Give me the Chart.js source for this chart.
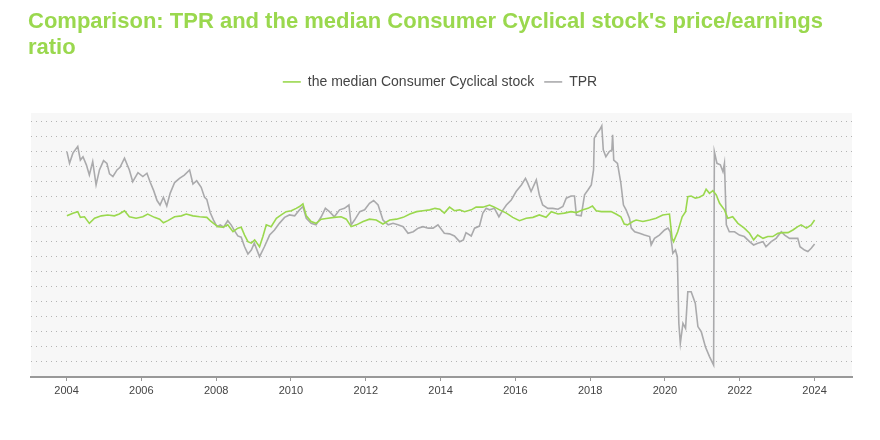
<!DOCTYPE html>
<html>
<head>
<meta charset="utf-8">
<script src="https://cdn.jsdelivr.net/npm/chart.js@4"></script>
<style>
  html, body { margin: 0; padding: 0; background: #fff; }
  #wrap { width: 880px; height: 440px; }
</style>
</head>
<body>
<div id="wrap"><canvas id="myChart"></canvas></div>
<script>
// P/E ratio readings (decimal year, value)
const titleLines = ['Comparison: TPR and the median Consumer Cyclical stock\'s price/earnings', 'ratio'];
const seriesNames = ['the median Consumer Cyclical stock', 'TPR'];
const xTicks = [2004, 2006, 2008, 2010, 2012, 2014, 2016, 2018, 2020, 2022, 2024];
const yGrid = [-30, -25, -20, -15, -10, -5, 0, 5, 10, 15, 20, 25, 30, 35, 40, 45, 50];

const medianYears = [
    2004.01, 2004.17, 2004.30, 2004.37, 2004.48, 2004.61, 2004.75, 2004.93, 2005.10, 2005.28,
    2005.41, 2005.55, 2005.68, 2005.86, 2006.04, 2006.17, 2006.35, 2006.49, 2006.59, 2006.71,
    2006.89, 2007.07, 2007.20, 2007.38, 2007.56, 2007.75, 2007.84, 2007.93, 2008.05, 2008.18,
    2008.31, 2008.45, 2008.58, 2008.67, 2008.76, 2008.85, 2008.94, 2009.03, 2009.16, 2009.25,
    2009.34, 2009.47, 2009.61, 2009.74, 2009.87, 2010.01, 2010.14, 2010.23, 2010.32, 2010.41,
    2010.54, 2010.67, 2010.81, 2010.99, 2011.16, 2011.34, 2011.48, 2011.61, 2011.75, 2011.93,
    2012.10, 2012.28, 2012.46, 2012.64, 2012.82, 2013.00, 2013.18, 2013.36, 2013.53, 2013.71,
    2013.85, 2013.98, 2014.10, 2014.24, 2014.37, 2014.51, 2014.64, 2014.82, 2014.95, 2015.13,
    2015.31, 2015.44, 2015.58, 2015.76, 2015.93, 2016.11, 2016.29, 2016.47, 2016.64, 2016.82,
    2016.96, 2017.14, 2017.31, 2017.49, 2017.63, 2017.81, 2017.94, 2018.06, 2018.16, 2018.30,
    2018.43, 2018.56, 2018.69, 2018.82, 2018.91, 2019.00, 2019.14, 2019.23, 2019.41, 2019.59,
    2019.76, 2019.94, 2020.12, 2020.19, 2020.23, 2020.34, 2020.46, 2020.55, 2020.61, 2020.70,
    2020.81, 2020.92, 2021.03, 2021.10, 2021.19, 2021.28, 2021.37, 2021.46, 2021.59, 2021.68,
    2021.81, 2021.95, 2022.12, 2022.26, 2022.37, 2022.48, 2022.62, 2022.75, 2022.88, 2023.02,
    2023.15, 2023.29, 2023.42, 2023.55, 2023.64, 2023.78, 2023.91, 2024.00
];
const medianPE = [
    18.7, 19.6, 20.1, 18.2, 18.4, 16.2, 17.9, 18.7, 19.0, 18.7,
    19.3, 20.4, 18.4, 17.9, 18.4, 19.3, 18.2, 17.6, 16.4, 17.1,
    18.4, 18.7, 19.3, 18.7, 18.4, 18.2, 17.1, 16.2, 15.1, 14.9,
    15.7, 13.4, 14.6, 14.9, 12.3, 10.1, 9.6, 10.7, 8.4, 11.8,
    15.7, 15.1, 17.9, 19.0, 20.1, 20.4, 21.2, 21.8, 22.7, 18.7,
    16.8, 16.2, 17.6, 17.9, 18.2, 18.4, 17.6, 15.1, 15.7, 16.8,
    17.6, 17.3, 16.0, 17.3, 17.6, 18.2, 19.3, 20.1, 20.4, 20.7,
    21.2, 20.9, 19.6, 21.6, 20.4, 20.7, 20.1, 20.7, 21.6, 21.6,
    22.3, 21.6, 20.7, 19.6, 18.2, 17.1, 17.9, 18.2, 19.0, 18.2,
    20.1, 19.3, 19.6, 20.1, 19.8, 20.7, 21.2, 22.0, 20.4, 20.1,
    20.1, 20.1, 19.3, 18.4, 16.0, 15.7, 16.8, 17.3, 16.8, 17.3,
    17.9, 19.0, 19.3, 11.2, 10.1, 13.4, 18.4, 20.1, 25.1, 25.3,
    24.6, 24.9, 25.7, 27.6, 26.2, 27.1, 25.7, 22.9, 20.7, 17.9,
    18.4, 16.2, 14.6, 12.9, 10.7, 12.3, 11.2, 11.8, 11.8, 12.9,
    13.1, 13.1, 14.0, 15.1, 15.7, 14.6, 15.7, 17.3
];

const tprYears = [
    2004.01, 2004.08, 2004.17, 2004.30, 2004.37, 2004.44, 2004.53, 2004.61, 2004.70, 2004.79,
    2004.88, 2004.99, 2005.08, 2005.15, 2005.24, 2005.35, 2005.43, 2005.55, 2005.68, 2005.77,
    2005.91, 2006.04, 2006.15, 2006.24, 2006.33, 2006.42, 2006.50, 2006.59, 2006.68, 2006.77,
    2006.89, 2007.02, 2007.15, 2007.29, 2007.38, 2007.48, 2007.60, 2007.69, 2007.75, 2007.84,
    2007.93, 2008.02, 2008.11, 2008.20, 2008.31, 2008.40, 2008.49, 2008.58, 2008.67, 2008.76,
    2008.85, 2008.94, 2009.02, 2009.16, 2009.29, 2009.43, 2009.56, 2009.69, 2009.83, 2009.96,
    2010.10, 2010.23, 2010.32, 2010.41, 2010.54, 2010.67, 2010.81, 2010.92, 2011.03, 2011.16,
    2011.30, 2011.43, 2011.55, 2011.61, 2011.70, 2011.84, 2011.97, 2012.10, 2012.21, 2012.33,
    2012.46, 2012.60, 2012.73, 2012.86, 2013.00, 2013.13, 2013.27, 2013.40, 2013.53, 2013.67,
    2013.80, 2013.93, 2014.10, 2014.24, 2014.37, 2014.51, 2014.61, 2014.68, 2014.82, 2014.91,
    2015.04, 2015.13, 2015.22, 2015.31, 2015.44, 2015.56, 2015.67, 2015.76, 2015.89, 2016.02,
    2016.16, 2016.27, 2016.33, 2016.42, 2016.56, 2016.64, 2016.73, 2016.87, 2017.00, 2017.14,
    2017.27, 2017.36, 2017.49, 2017.58, 2017.63, 2017.76, 2017.85, 2017.94, 2018.03, 2018.09,
    2018.11, 2018.18, 2018.25, 2018.31, 2018.35, 2018.42, 2018.51, 2018.58, 2018.60, 2018.63,
    2018.73, 2018.82, 2018.89, 2018.96, 2019.05, 2019.10, 2019.19, 2019.32, 2019.45, 2019.59,
    2019.63, 2019.72, 2019.85, 2019.99, 2020.08, 2020.14, 2020.21, 2020.28, 2020.33, 2020.37,
    2020.41, 2020.48, 2020.55, 2020.61, 2020.70, 2020.81, 2020.88, 2020.97, 2021.08, 2021.19,
    2021.30, 2021.32, 2021.39, 2021.48, 2021.55, 2021.59, 2021.64, 2021.72, 2021.86, 2021.99,
    2022.12, 2022.26, 2022.37, 2022.48, 2022.62, 2022.70, 2022.84, 2022.97, 2023.11, 2023.20,
    2023.33, 2023.46, 2023.55, 2023.61, 2023.73, 2023.82, 2023.91, 2024.00
];
const tprPE = [
    40.1, 36.2, 39.6, 41.8, 37.3, 38.4, 35.7, 32.3, 36.8, 29.0,
    34.0, 37.1, 36.2, 32.7, 31.8, 34.0, 34.9, 37.9, 34.0, 30.1,
    33.1, 31.8, 32.9, 29.8, 27.1, 23.8, 22.3, 24.9, 22.0, 26.2,
    29.8, 31.2, 32.3, 34.0, 29.3, 30.4, 28.2, 24.9, 24.2, 19.8,
    17.3, 15.1, 15.7, 14.9, 17.1, 15.7, 13.8, 12.0, 11.6, 8.4,
    6.0, 7.3, 9.6, 5.1, 8.4, 12.3, 14.0, 16.2, 18.2, 19.0,
    18.7, 20.7, 21.8, 17.9, 16.2, 15.7, 18.4, 21.2, 20.1, 18.4,
    20.7, 21.2, 22.3, 15.7, 17.3, 20.1, 20.7, 22.9, 23.8, 22.3,
    17.3, 15.7, 16.2, 15.7, 15.1, 12.9, 13.4, 14.6, 15.1, 14.6,
    14.6, 15.7, 12.9, 12.7, 12.0, 10.1, 10.7, 13.1, 12.0, 14.6,
    15.3, 19.6, 21.2, 20.7, 21.2, 18.4, 20.7, 22.3, 24.0, 26.8,
    29.0, 31.2, 29.6, 26.8, 30.7, 25.7, 22.3, 21.2, 21.2, 20.9,
    21.8, 24.6, 25.3, 25.3, 19.0, 18.7, 25.7, 27.3, 29.0, 34.0,
    44.6, 46.2, 47.3, 48.7, 40.7, 38.4, 40.1, 40.7, 45.7, 37.3,
    36.2, 29.6, 22.3, 20.7, 17.9, 14.6, 13.4, 12.9, 12.3, 11.8,
    9.0, 11.2, 12.3, 14.0, 14.6, 13.4, 6.2, 7.3, 5.1, -17.1,
    -23.8, -17.1, -18.8, -6.6, -6.6, -10.4, -18.2, -19.9, -24.9, -28.2,
    -31.0, 40.1, 36.2, 35.7, 33.4, 36.2, 15.7, 13.4, 13.4, 12.3,
    11.8, 10.1, 9.0, 9.6, 10.1, 8.4, 10.1, 11.2, 13.4, 12.3,
    11.2, 11.2, 11.2, 8.4, 7.3, 6.8, 7.9, 9.3
];

const green = '#9ad84e';
const gray = '#aaaaac';

function toPoints(xs, ys) {
    return xs.map((x, i) => ({ x: x, y: ys[i] }));
}

// light panel behind the plot
const plotBackground = {
    id: 'plotBackground',
    beforeDraw(chart) {
        const a = chart.chartArea;
        const c = chart.ctx;
        c.save();
        c.fillStyle = '#f7f7f7';
        c.fillRect(a.left, a.top, a.right - a.left, a.bottom - a.top);
        c.restore();
    }
};

// extra gap under the legend
const legendGap = {
    id: 'legendGap',
    beforeInit(chart) {
        const lg = chart.legend;
        if (!lg) return;
        const fit = lg.fit;
        lg.fit = function () {
            fit.call(this);
            this.height += 14;
        };
    }
};

const config = {
    type: 'line',
    data: {
        datasets: [{
            label: seriesNames[0],
            data: toPoints(medianYears, medianPE),
            borderColor: green,
            backgroundColor: green,
            borderWidth: 1.6,
            pointRadius: 0,
            pointStyle: 'line'
        }, {
            label: seriesNames[1],
            data: toPoints(tprYears, tprPE),
            borderColor: gray,
            backgroundColor: gray,
            borderWidth: 1.6,
            pointRadius: 0,
            pointStyle: 'line'
        }]
    },
    options: {
        responsive: true,
        maintainAspectRatio: false,
        animation: false,
        layout: { padding: { left: 28, right: 28, top: 0, bottom: 0 } },
        plugins: {
            title: {
                display: true,
                text: titleLines,
                align: 'start',
                color: green,
                font: { family: 'Liberation Sans', size: 22, weight: 'bold', lineHeight: 1.18 },
                padding: { top: 9, bottom: 4 }
            },
            legend: {
                display: true,
                labels: {
                    usePointStyle: true,
                    pointStyleWidth: 18,
                    boxWidth: 18,
                    boxHeight: 14,
                    color: '#444',
                    font: { family: 'Liberation Sans', size: 14 },
                    padding: 10
                }
            },
            tooltip: { enabled: false }
        },
        scales: {
            x: {
                type: 'linear',
                min: 2003.05,
                max: 2025.0,
                afterBuildTicks: (scale) => { scale.ticks = xTicks.map(v => ({ value: v })); },
                afterFit: (scale) => { scale.height = 63; },
                ticks: {
                    color: '#444',
                    font: { family: 'Liberation Sans', size: 11 },
                    maxRotation: 0,
                    callback: (v) => String(v)
                },
                grid: { drawOnChartArea: false, drawTicks: true, tickLength: 4, color: '#999' },
                border: { display: true, color: '#999', width: 2 }
            },
            y: {
                min: -35,
                max: 53,
                afterBuildTicks: (scale) => { scale.ticks = yGrid.map(v => ({ value: v })); },
                afterFit: (scale) => { scale.width = 3; },
                ticks: { display: false },
                grid: { color: '#b4b4b4', lineWidth: 1, drawTicks: false },
                border: { display: false, dash: [1, 4] }
            }
        }
    },
    plugins: [plotBackground, legendGap]
};

const ctx = document.getElementById('myChart').getContext('2d');
const myChart = new Chart(ctx, config);
</script>
</body>
</html>
